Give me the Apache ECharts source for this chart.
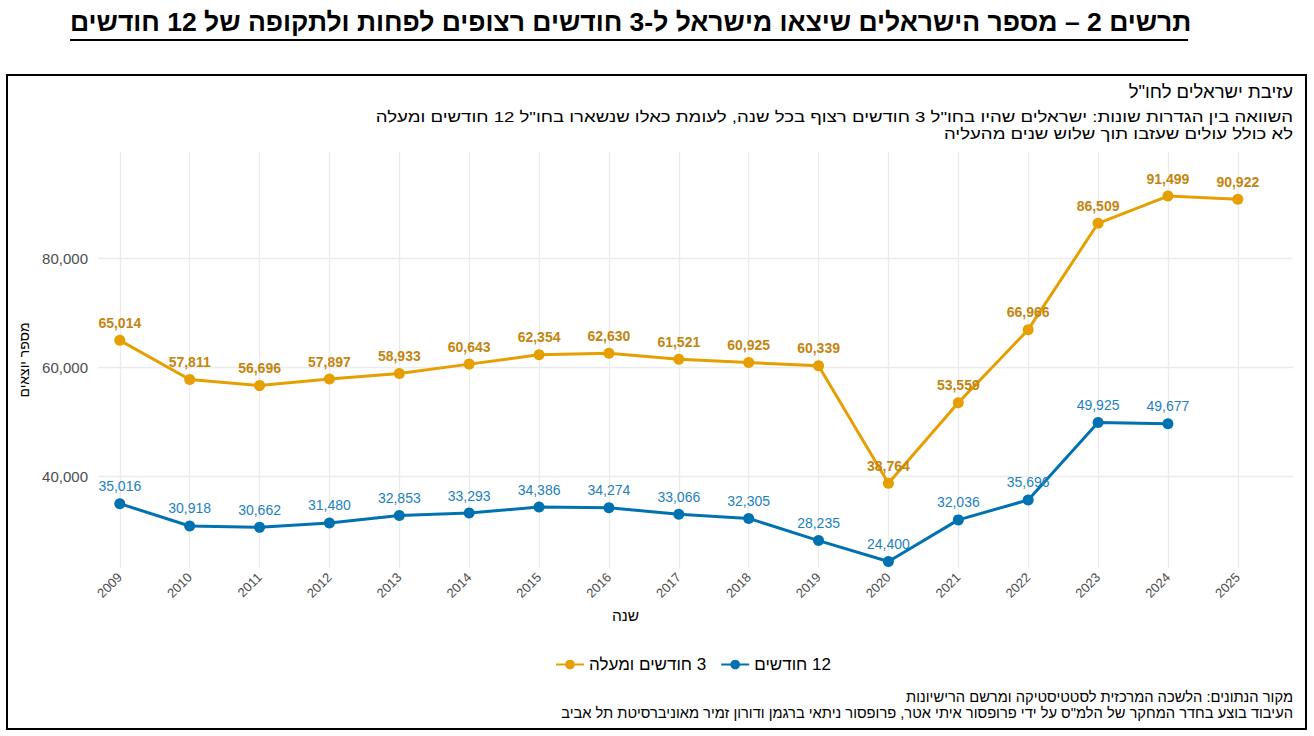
<!DOCTYPE html>
<html><head><meta charset="utf-8">
<script src="https://cdn.jsdelivr.net/npm/echarts@6/dist/echarts.min.js"></script>
<style>html,body{margin:0;padding:0;background:#fff}#c{width:1314px;height:736px}
#c svg text{unicode-bidi:plaintext}</style>
</head><body><div id="c"></div>
<script>
const years = [2009,2010,2011,2012,2013,2014,2015,2016,2017,2018,2019,2020,2021,2022,2023,2024,2025];
const threeMonths = [65014,57811,56696,57897,58933,60643,62354,62630,61521,60925,60339,38764,53559,66966,86509,91499,90922];
const twelveMonths = [35016,30918,30662,31480,32853,33293,34386,34274,33066,32305,28235,24400,32036,35696,49925,49677,null];
const yTicks = [40000,60000,80000];
const seriesNames = ['3 חודשים ומעלה','12 חודשים'];
const mainTitle = 'תרשים 2 – מספר הישראלים שיצאו מישראל ל-3 חודשים רצופים לפחות ולתקופה של 12 חודשים';
const subTitle = 'עזיבת ישראלים לחו"ל';
const subLine1 = 'השוואה בין הגדרות שונות: ישראלים שהיו בחו"ל 3 חודשים רצוף בכל שנה, לעומת כאלו שנשארו בחו"ל 12 חודשים ומעלה';
const subLine2 = 'לא כולל עולים שעזבו תוך שלוש שנים מהעליה';
const caption1 = 'מקור הנתונים: הלשכה המרכזית לסטטיסטיקה ומרשם הרישיונות';
const caption2 = 'העיבוד בוצע בחדר המחקר של הלמ"ס על ידי פרופסור איתי אטר, פרופסור ניתאי ברגמן ודורון זמיר מאוניברסיטת תל אביב';
const xName = 'שנה';
const yName = 'מספר יוצאים';

const FONT = '"Liberation Sans", Arial, sans-serif';
const fmt = v => Number(v).toLocaleString('en-US');
const pairs = arr => years.map((y,i)=>[y, arr[i]]).filter(p=>p[1]!=null);

const chart = echarts.init(document.getElementById('c'), null, {renderer:'svg'});
chart.setOption({
  animation:false,
  textStyle:{fontFamily:FONT},
  grid:{left:98,right:21,top:152,bottom:168},
  xAxis:{type:'value',min:2008.688,max:2025.79,
    axisLine:{show:false},
    axisTick:{show:false,customValues:years},
    axisLabel:{customValues:years,rotate:45,fontSize:13,color:'#4d4d4d',margin:7,fontFamily:FONT,formatter:v=>String(v)},
    splitLine:{show:true,lineStyle:{color:'#ebebeb',width:1.3}}},
  yAxis:{type:'value',min:23200,max:99600,
    name:yName,nameLocation:'middle',nameRotate:90,nameGap:66,
    nameTextStyle:{fontSize:14,color:'#000',fontFamily:FONT},
    axisLine:{show:false},
    axisTick:{show:false,customValues:yTicks},
    axisLabel:{customValues:yTicks,fontSize:15,color:'#4d4d4d',margin:10,fontFamily:FONT,formatter:fmt},
    splitLine:{show:true,lineStyle:{color:'#ebebeb',width:1.3}}},
  legend:{data:seriesNames,top:651,left:550,itemWidth:28,itemHeight:12,itemGap:14,
    textStyle:{fontSize:17,color:'#000',fontFamily:FONT}},
  series:[
    {name:seriesNames[0],type:'line',data:pairs(threeMonths),
      lineStyle:{color:'#E69F00',width:3},itemStyle:{color:'#E69F00'},
      symbol:'circle',symbolSize:11,
      label:{show:true,position:'top',distance:5,formatter:p=>fmt(p.value[1]),
        color:'#C4850F',fontWeight:'bold',fontSize:14,fontFamily:FONT}},
    {name:seriesNames[1],type:'line',data:pairs(twelveMonths),
      lineStyle:{color:'#0072B2',width:3},itemStyle:{color:'#0072B2'},
      symbol:'circle',symbolSize:11,
      label:{show:true,position:'top',distance:5,formatter:p=>fmt(p.value[1]),
        color:'#1C81C0',fontSize:14,fontFamily:FONT}}
  ],
  graphic:[
    {type:'text',left:70,top:8,style:{text:mainTitle,fontSize:26.5,fontWeight:'bold',fill:'#000',fontFamily:FONT}},
    {type:'rect',shape:{x:70,y:39,width:1118,height:2},style:{fill:'#000'}},
    {type:'rect',shape:{x:7,y:75,width:1299,height:654},style:{fill:'none',stroke:'#000',lineWidth:2}},
    {type:'text',right:21,top:82,style:{text:subTitle,fontSize:18.5,fill:'#000',fontFamily:FONT}},
    {type:'text',x:1293,y:117,scaleX:1.2,
      style:{text:subLine1,fontSize:15.5,fill:'#000',fontFamily:FONT,align:'right',verticalAlign:'middle'}},
    {type:'text',x:1293,y:134,scaleX:1.2,
      style:{text:subLine2,fontSize:15.5,fill:'#000',fontFamily:FONT,align:'right',verticalAlign:'middle'}},
    {type:'text',left:612,top:607,style:{text:xName,fontSize:15.5,fill:'#000',fontFamily:FONT}},
    {type:'text',right:21,top:689,style:{text:caption1,fontSize:14.7,fill:'#000',fontFamily:FONT}},
    {type:'text',right:21,top:705,style:{text:caption2,fontSize:14.7,fill:'#000',fontFamily:FONT}}
  ]
});
</script></body></html>
